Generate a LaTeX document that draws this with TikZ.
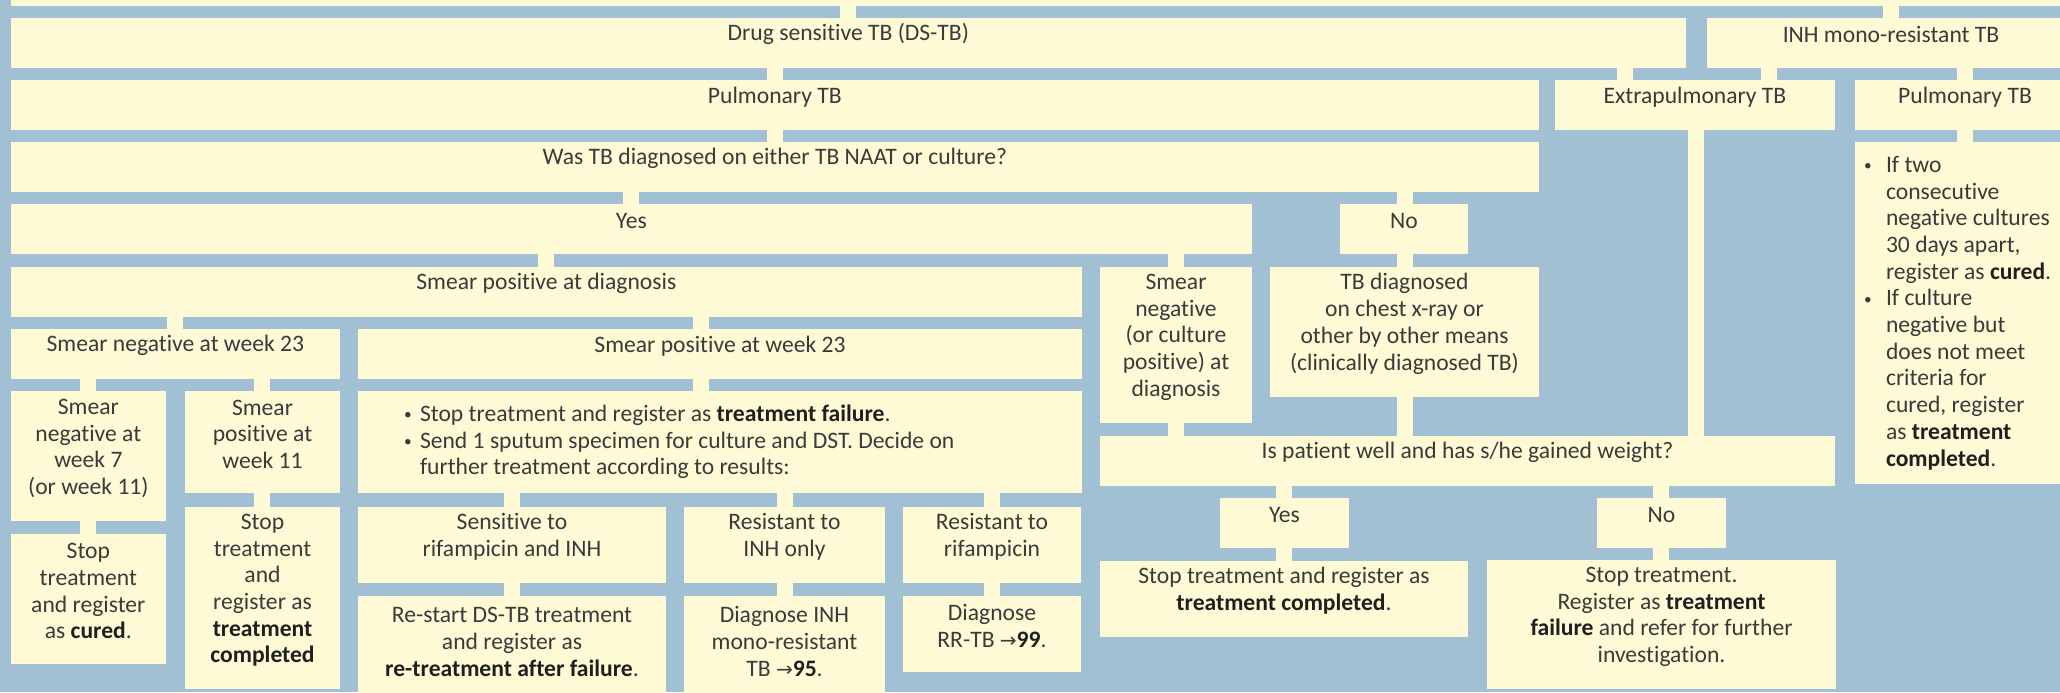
\documentclass[tikz,border=0pt]{standalone}
\usepackage{fontspec}
\setmainfont{Carlito}[Ligatures=NoCommon]
\newfontfamily\arrowfont{DejaVu Sans}[Scale=0.85]
\usetikzlibrary{fit}
\definecolor{FlowBlue}{HTML}{A2C0D3}
\definecolor{FlowCream}{HTML}{FFFAD6}
\definecolor{FlowInk}{HTML}{3A3A3A}
\definecolor{FlowDark}{HTML}{1F1F1F}
\newcommand\flowbul[1]{\makebox[#1][l]{\raisebox{0.9pt}{\scalebox{0.65}{•}}}}
\newcommand\flowbf[1]{{\color{FlowDark}\textbf{#1}}}

\begin{document}
\begin{tikzpicture}[
    x=0.5pt, y=-0.5pt,
    font=\fontsize{11.8}{13.35}\selectfont,
    blk/.style={
      fill=FlowCream,
      inner sep=0pt,
      outer sep=0pt,
      text=FlowInk,
    },
    cbox/.style={
      blk,
      align=center,
    },
    lbox/.style={
      blk,
      align=flush left,
    },
    link/.style={
      draw=FlowCream,
      line width=8pt,
      shorten <=-0.5pt,
      shorten >=-0.5pt,
    },
  ]
  \useasboundingbox (0,0) rectangle (2060,692);
  \clip (0,0) rectangle (2060,692);
  \fill[FlowBlue] (0,0) rectangle (2060,692);

  % top levels
  \node[blk, fit={(10.7,-30) (2080,6)}] (prev) {};
  \node[cbox, fit={(10.7,18) (1686,68)}] (dstb) {Drug sensitive TB (DS-TB)};
  \node[cbox, fit={(1707,18) (2075,68)}] (inh) {INH mono-resistant TB};
  \node[cbox, fit={(10.7,80) (1539,130)}] (pulm) {Pulmonary TB};
  \node[cbox, fit={(1555,80) (1835,130)}] (extra) {Extrapulmonary TB};
  \node[cbox, fit={(1855,80) (2075,130)}] (ipulm) {Pulmonary TB};
  \node[cbox, fit={(10.7,142) (1539,192)}] (naat) {Was TB diagnosed on either TB NAAT or culture?};
  \node[lbox, text width=101pt, minimum width=110pt, minimum height=171pt] (ibul) at (1965,313) {%
    \flowbul{11pt}If two\\
    \hspace*{11pt}consecutive\\
    \hspace*{11pt}negative cultures\\
    \hspace*{11pt}30 days apart,\\
    \hspace*{11pt}register as \flowbf{cured}.\\
    \flowbul{11pt}If culture\\
    \hspace*{11pt}negative but\\
    \hspace*{11pt}does not meet\\
    \hspace*{11pt}criteria for\\
    \hspace*{11pt}cured, register\\
    \hspace*{11pt}as \flowbf{treatment}\\
    \hspace*{11pt}\flowbf{completed}.};

  % yes / no
  \node[cbox, fit={(10.7,204) (1252,254)}] (yes) {Yes};
  \node[cbox, fit={(1340,204) (1468,254)}] (no) {No};
  \node[cbox, fit={(10.7,267) (1082,317)}] (spd) {Smear positive at diagnosis};
  \node[cbox, fit={(1100,267) (1252,423)}] (sneg) {Smear\\negative\\(or culture\\positive) at\\diagnosis};
  \node[cbox, fit={(1270,267) (1539,397)}] (cxr) {TB diagnosed\\on chest x-ray or\\other by other means\\(clinically diagnosed TB)};

  % smear follow-up
  \node[cbox, fit={(10.7,329) (340,379)}] (sn23) {Smear negative at week 23};
  \node[cbox, fit={(358,329) (1082,379)}] (sp23) {Smear positive at week 23};
  \node[cbox, fit={(10.7,391) (166,521)}] (sn7) {Smear\\negative at\\week 7\\(or week 11)};
  \node[cbox, fit={(185,391) (340,493)}] (sp11) {Smear\\positive at\\week 11};
  \node[lbox, text width=316pt, minimum width=362pt, minimum height=51pt] (fail) at (720,442) {%
    \flowbul{8pt}Stop treatment and register as \flowbf{treatment failure}.\\
    \flowbul{8pt}Send 1 sputum specimen for culture and DST. Decide on\\
    \hspace*{8pt}further treatment according to results:};
  \node[cbox, fit={(10.7,534) (166,664)}] (cured) {Stop\\treatment\\and register\\as \flowbf{cured}.};
  \node[cbox, fit={(185,507) (340,689)}] (tcomp) {Stop\\treatment\\and\\register as\\\flowbf{treatment}\\\flowbf{completed}};
  \node[cbox, fit={(358,507) (666,583)}] (sens) {Sensitive to\\rifampicin and INH};
  \node[cbox, fit={(684,507) (885,583)}] (rinh) {Resistant to\\INH only};
  \node[cbox, fit={(903,507) (1081,583)}] (rrif) {Resistant to\\rifampicin};
  \node[cbox, fit={(358,596) (666,703)}] (restart) {Re-start DS-TB treatment\\and register as\\\flowbf{re-treatment after failure}.};
  \node[cbox, fit={(684,596) (885,703)}] (dinh) {Diagnose INH\\mono-resistant\\TB {\arrowfont →}\flowbf{95}.};
  \node[cbox, fit={(903,596) (1081,672)}] (drr) {Diagnose\\RR-TB {\arrowfont →}\flowbf{99}.};

  % clinical follow-up
  \node[cbox, fit={(1100,436) (1835,486)}] (well) {Is patient well and has s/he gained weight?};
  \node[cbox, fit={(1220,498) (1349,548)}] (wyes) {Yes};
  \node[cbox, fit={(1597,498) (1726,548)}] (wno) {No};
  \node[cbox, fit={(1100,561) (1468,637)}] (tc2) {Stop treatment and register as\\\flowbf{treatment completed}.};
  \node[cbox, fit={(1487,560) (1836,689)}] (tf2) {Stop treatment.\\Register as \flowbf{treatment}\\\flowbf{failure} and refer for further\\investigation.};

  % connectors
  \draw[link] (848,0 |- prev.south) -- (848,0 |- dstb.north);
  \draw[link] (1891,0 |- prev.south) -- (1891,0 |- inh.north);
  \draw[link] (775,0 |- dstb.south) -- (775,0 |- pulm.north);
  \draw[link] (1625,0 |- dstb.south) -- (1625,0 |- extra.north);
  \draw[link] (1769,0 |- inh.south) -- (1769,0 |- extra.north);
  \draw[link] (1965,0 |- inh.south) -- (1965,0 |- ipulm.north);
  \draw[link] (775,0 |- pulm.south) -- (775,0 |- naat.north);
  \draw[link] (1965,0 |- ipulm.south) -- (1965,0 |- ibul.north);
  \draw[link] (1695.5,0 |- extra.south) -- (1695.5,0 |- well.north);
  \draw[link] (631,0 |- naat.south) -- (631,0 |- yes.north);
  \draw[link] (1405,0 |- naat.south) -- (1405,0 |- no.north);
  \draw[link] (546,0 |- yes.south) -- (546,0 |- spd.north);
  \draw[link] (1176,0 |- yes.south) -- (1176,0 |- sneg.north);
  \draw[link] (1405,0 |- no.south) -- (1405,0 |- cxr.north);
  \draw[link] (175,0 |- spd.south) -- (175,0 |- sn23.north);
  \draw[link] (701,0 |- spd.south) -- (701,0 |- sp23.north);
  \draw[link] (1176,0 |- sneg.south) -- (1176,0 |- well.north);
  \draw[link] (1405,0 |- cxr.south) -- (1405,0 |- well.north);
  \draw[link] (88,0 |- sn23.south) -- (88,0 |- sn7.north);
  \draw[link] (262,0 |- sn23.south) -- (262,0 |- sp11.north);
  \draw[link] (701,0 |- sp23.south) -- (701,0 |- fail.north);
  \draw[link] (88,0 |- sn7.south) -- (88,0 |- cured.north);
  \draw[link] (262,0 |- sp11.south) -- (262,0 |- tcomp.north);
  \draw[link] (512,0 |- fail.south) -- (512,0 |- sens.north);
  \draw[link] (785,0 |- fail.south) -- (785,0 |- rinh.north);
  \draw[link] (992,0 |- fail.south) -- (992,0 |- rrif.north);
  \draw[link] (512,0 |- sens.south) -- (512,0 |- restart.north);
  \draw[link] (785,0 |- rinh.south) -- (785,0 |- dinh.north);
  \draw[link] (992,0 |- rrif.south) -- (992,0 |- drr.north);
  \draw[link] (1284,0 |- well.south) -- (1284,0 |- wyes.north);
  \draw[link] (1661,0 |- well.south) -- (1661,0 |- wno.north);
  \draw[link] (1284,0 |- wyes.south) -- (1284,0 |- tc2.north);
  \draw[link] (1661,0 |- wno.south) -- (1661,0 |- tf2.north);
\end{tikzpicture}
\end{document}
